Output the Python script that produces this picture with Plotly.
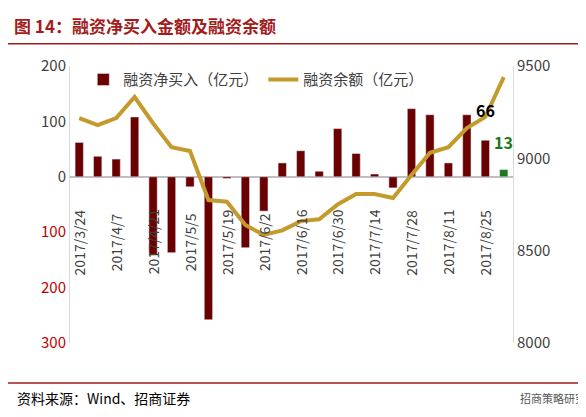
import plotly.graph_objects as go

dates = ['2017/3/24', '2017/3/31', '2017/4/7', '2017/4/14', '2017/4/21', '2017/4/28',
         '2017/5/5', '2017/5/12', '2017/5/19', '2017/5/26', '2017/6/2', '2017/6/9',
         '2017/6/16', '2017/6/23', '2017/6/30', '2017/7/7', '2017/7/14', '2017/7/21',
         '2017/7/28', '2017/8/4', '2017/8/11', '2017/8/18', '2017/8/25', '2017/9/1']
net_buy = [62, 37, 32, 108, -140, -137, -18, -258, -3, -128, -62, 25,
           47, 10, 87, 42, 5, -20, 123, 112, 25, 112, 66, 13]
balance = [9218, 9180, 9218, 9332, 9190, 9060, 9040, 8774, 8765, 8639, 8585, 8610,
           8660, 8670, 8750, 8807, 8807, 8785, 8910, 9030, 9060, 9164, 9224, 9440]
left_ticks = [200, 100, 0, -100, -200, -300]
left_text = ['200', '100', '0', '<span style="color:#c00000">100</span>',
             '<span style="color:#c00000">200</span>', '<span style="color:#c00000">300</span>']
right_ticks = [8000, 8500, 9000, 9500]

bar_colors = ['#6b0000'] * (len(dates) - 1) + ['#1a7a1a']

fig = go.Figure()
fig.add_trace(go.Bar(x=dates, y=net_buy, name='融资净买入（亿元）', marker_color=bar_colors,
                     width=0.45))
fig.add_trace(go.Scatter(x=dates, y=balance, name='融资余额（亿元）', yaxis='y2', mode='lines',
                         line=dict(color='#c49a2c', width=4)))

# date labels hanging under the zero line
for d in dates[::2]:
    fig.add_annotation(x=d, y=-118, text=d, textangle=-90, showarrow=False,
                       font=dict(size=14, color='#404040'))

fig.add_annotation(x=dates[22], y=net_buy[22] + 30, text='<b>66</b>', showarrow=False,
                   font=dict(size=16, color='black'), yanchor='bottom')
fig.add_annotation(x=dates[23], y=net_buy[23] + 25, text='<b>13</b>', showarrow=False,
                   font=dict(size=16, color='#1a7a1a'), yanchor='bottom')

fig.add_annotation(x=-0.13, y=1.145, xref='paper', yref='paper', xanchor='left', yanchor='middle',
                   text='<b>图 14：融资净买入金额及融资余额</b>', showarrow=False,
                   font=dict(size=17, color='#a31c1c'))
fig.add_annotation(x=-0.125, y=-0.2, xref='paper', yref='paper', xanchor='left', yanchor='middle',
                   text='资料来源：Wind、招商证券', showarrow=False, font=dict(size=14, color='black'))
fig.add_annotation(x=1.17, y=-0.2, xref='paper', yref='paper', xanchor='right', yanchor='middle',
                   text='招商策略研究', showarrow=False, font=dict(size=11, color='#555'))
fig.add_shape(type='line', xref='paper', yref='paper', x0=-0.14, x1=1.183, y0=1.08, y1=1.08,
              line=dict(color='#a31c1c', width=1.5))
fig.add_shape(type='line', xref='paper', yref='paper', x0=-0.14, x1=1.183, y0=-0.144, y1=-0.144,
              line=dict(color='#a31c1c', width=1.5))

fig.update_layout(
    width=586, height=417, margin=dict(l=62, r=81, t=58, b=82),
    paper_bgcolor='white', plot_bgcolor='white',
    font=dict(family='Noto Sans CJK SC', size=14, color='#404040'),
    legend=dict(orientation='h', x=0.03, y=1.01, yanchor='top', font=dict(size=15, color='#404040'),
                bgcolor='rgba(0,0,0,0)'),
    xaxis=dict(showticklabels=False, showgrid=False, showline=False, ticks='',
               range=[-0.5, len(dates) - 0.5]),
    yaxis=dict(range=[-300, 200], tickvals=left_ticks, ticktext=left_text, showgrid=False,
               zeroline=True, zerolinecolor='#bfbfbf', showline=True, linecolor='#d9d9d9',
               tickfont=dict(size=15)),
    yaxis2=dict(range=[8000, 9500], tickvals=right_ticks, overlaying='y', side='right',
                showgrid=False, showline=True, linecolor='#d9d9d9', tickfont=dict(size=15)),
)
fig.write_html('out.html')
